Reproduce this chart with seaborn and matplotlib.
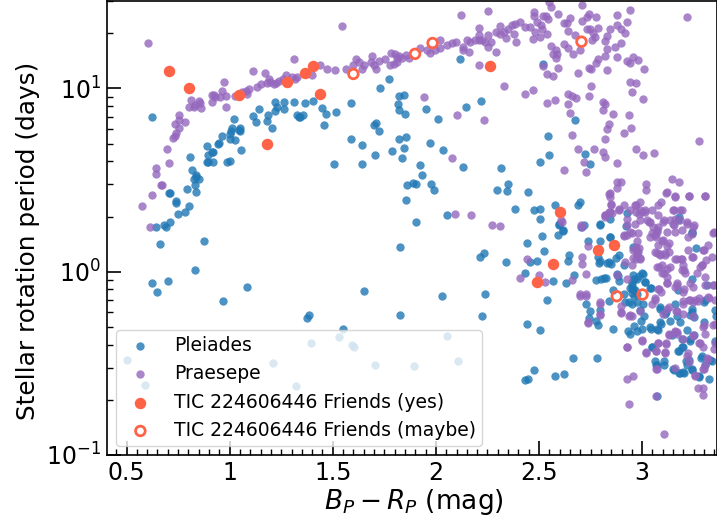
import matplotlib
matplotlib.use("Agg")
import matplotlib.pyplot as plt
from matplotlib.ticker import MultipleLocator, FixedLocator, FixedFormatter
import seaborn as sns

pleiades = [
(.624,6.95),(.645,1.76),(.684,1.79),(.69,1.76),(.71,1.86),(.749,2.07),(.784,2.11),(.805,2.27),(.741,2.44),(.739,2.37),
(.705,2.7),(.713,2.7),(.794,2.83),(.836,2.72),(.833,2.97),(.826,3.2),(.85,3.22),(.839,3.37),(.837,3.3),(.818,3.58),
(.808,4.24),(.891,3.97),(.896,3.97),(.92,3.95),(.896,4.34),(.915,4.48),(.921,4.48),(.891,4.85),(.946,4.95),(.949,5.07),(.965,5.47),
(.986,3.97),(1.002,4.03),(1.055,4.62),(1.028,5.26),(1.0,5.29),(1.004,5.64),(1.012,6.08),(1.007,5.88),(1.052,6.08),(1.052,5.88),(1.044,5.96),
(1.023,6.8),(1.114,7.1),(1.127,6.6),(1.14,7.73),(1.185,7.2),(1.183,6.63),(1.204,6.08),(1.222,7.5),(1.23,7.9),(1.219,8.43),(1.265,7.77),(1.265,8.4),
(1.311,8.43),(1.366,8.3),(1.404,8.53),(1.328,7.2),(1.338,7.0),(1.343,7.0),(1.354,7.2),(1.45,7.84),(1.467,7.23),(1.514,7.4),(1.456,6.35),(1.588,8.35),
(1.587,5.29),(1.642,4.94),(1.508,3.88),(1.643,3.88),(1.698,6.33),(1.708,6.45),(1.724,5.84),(1.706,4.34),(1.727,10.0),(1.773,11.2),
(1.787,4.58),(1.819,5.27),(1.855,5.45),(1.847,4.76),(1.837,4.2),(1.823,9.1),(1.847,9.2),(1.818,8.2),(1.819,7.6),(1.852,7.3),(1.861,2.97),(1.855,2.46),
(2.118,14.5),(2.517,13.6),(2.217,8.5),(2.147,7.9),(1.95,7.7),(2.012,6.85),(2.674,6.75),(2.545,5.47),(1.971,5.05),(2.033,4.6),(2.549,4.34),(2.722,4.4),
(2.504,3.97),(2.748,3.85),(1.921,3.8),(2.131,3.75),(2.314,3.7),(1.933,3.37),(1.89,3.06),(1.905,3.0),(1.976,3.0),(1.992,2.8),(2.349,3.0),(2.296,2.78),(2.346,2.77),
(2.448,2.72),(2.386,2.2),(2.474,2.17),(2.504,2.21),(2.577,2.3),(2.687,2.3),(2.701,2.4),(2.054,2.05),(2.507,1.93),(1.905,1.87),(2.929,2.1),(2.845,1.95),(3.176,1.92),
(2.598,1.8),(2.617,1.7),(2.716,1.8),(2.703,1.76),(2.795,1.8),(2.922,1.78),
(2.03,.74),(2.236,.76),(2.223,.57),(2.44,.52),(2.506,.48),(2.537,.70),(2.667,.34),(2.779,.34),(2.477,.29),(2.433,.258),(2.449,.26),(2.577,.27),(2.622,.277),
(2.44,1.43),(2.516,1.56),(2.59,1.59),(2.617,1.66),(2.598,1.82),(2.522,1.29),(2.212,1.21),(2.233,1.26),(2.338,1.13),(2.457,1.13),(2.488,1.15),(2.432,.98),
(2.646,1.24),(2.64,1.14),(2.669,.96),(2.63,.87),(2.567,.89),(2.774,.90),(2.801,.915),(2.824,.92),(2.737,1.47),(2.797,1.47),(2.844,1.55),(2.785,1.2),(2.798,1.14),(2.79,1.11),
(2.832,1.12),(2.851,1.1),(2.89,1.24),(2.872,1.19),(2.881,.95),(2.89,.89),
(2.958,.96),(3.002,.975),(2.974,.915),(2.95,.88),(2.942,.82),(2.955,.80),(2.966,.79),(2.95,.77),(2.961,.74),(2.974,.76),(3.015,.88),(3.042,.82),(2.861,.79),(2.91,.76),
(2.84,.69),(2.918,.68),(2.934,.68),(2.95,.67),(2.974,.68),(2.99,.615),(3.011,.57),(2.994,.54),(3.006,.67),
(2.727,.67),(2.746,.61),(2.796,.615),(2.742,.56),(2.785,.515),(2.776,.54),(2.859,.49),(2.931,.475),(2.94,.455),(2.961,.505),(2.977,.475),(2.998,.49),(3.042,.49),(3.079,.48),(3.092,.52),
(3.087,.63),(3.116,.605),(3.136,.54),(3.168,.57),(3.217,.48),(3.233,.42),(3.192,.43),(3.047,.39),(3.176,.37),(3.2,.39),(3.063,.325),(3.071,.31),(3.108,.325),(3.152,.295),(3.184,.28),(3.2,.285),
(3.213,.325),(3.229,.33),(3.244,.295),(3.278,.265),(3.326,.26),(3.289,.345),(3.305,.31),(3.338,.325),(3.262,1.35),(3.241,.915),(3.244,1.62),(3.313,.85),(3.302,.68),(3.358,.57),(3.37,.41),
(3.071,.21),(3.176,.79),(3.16,.665),(3.241,.63),(3.252,.565),
(.66,1.41),(.875,1.47),(1.827,1.37),(.83,1.02),(.626,.87),(.702,.885),(.649,.78),(.968,.69),(1.083,.83),(1.375,.56),(1.387,.58),(1.55,.485),(1.65,.785),(1.827,.58),
(.503,.33),(.592,.24),(1.212,.316),(1.322,.237),(1.395,.41),(1.532,.44),(1.593,.40),(1.601,.39),(1.705,.31),(1.895,.305),(2.055,.445),(2.107,.325),
(3.178,2.0),(3.242,1.65),(2.795,1.83),(2.842,1.55),(2.956,1.37),(2.838,1.13),(2.914,1.09),(2.879,.97),(2.814,.93),(2.999,.99),(2.96,.91),(2.984,.95),(2.951,.85),(2.951,.8),(3.016,.88),(3.04,.82),
(3.089,.64),(3.113,.59),(3.089,.53),(3.145,.45),(3.073,.49),(3.04,.5),(3.234,.58),(3.242,.6),(3.186,.53),(3.234,.43),(3.25,.45),(3.194,.39),(3.178,.37),(3.048,.39),(3.065,.31),(3.108,.31),
(3.153,.29),(3.178,.28),(3.202,.28),(3.242,.29),(3.218,.31),(3.287,.34),(3.278,.27),(3.328,.33),(3.355,.62),(3.303,.7),(3.299,.53),(3.355,.42),
]

praesepe = [
(.603,17.7),(1.543,21.8),(1.312,14.4),(.574,2.27),(.615,1.75),(.624,2.62),(.665,2.97),(.673,2.96),(.644,3.4),(.644,3.67),(.705,3.9),(.694,4.68),
(.726,5.37),(.737,5.5),(.742,5.75),(.754,6.05),(.737,6.38),(.754,6.75),(.754,7.2),(.784,6.58),(.804,7.9),(.826,7.95),(.813,8.68),(.834,8.1),(.852,8.5),(.863,7.85),(.858,8.3),
(.915,8.4),(.913,9.2),(.923,9.2),(.931,8.95),(.952,8.95),(.984,9.15),(.963,9.7),(.973,10.9),(.983,7.95),(1.028,9.15),(1.06,9.55),(1.085,9.28),(1.093,9.9),(1.077,9.65),
(1.114,12.4),(1.133,10.2),(1.152,10.6),(1.173,12.1),(1.19,11.3),(1.182,10.75),(1.198,10.85),(1.214,10.6),(1.225,10.75),(1.241,11.0),(1.259,11.3),(1.274,11.8),(1.303,11.5),(1.327,11.5),(1.319,11.3),
(1.401,11.8),(1.44,13.5),(1.472,12.7),(1.513,12.55),(1.563,12.7),(1.597,13.4),(1.613,14.4),(1.626,14),(1.65,13.5),(1.642,12.7),(1.685,14),(1.692,15),(1.722,14.2),(1.752,14.4),(1.698,13.4),(1.711,12.7),
(1.782,15.7),(1.779,13.5),(1.795,13.6),(1.803,15.5),(1.811,14.7),(1.819,15),(1.811,14),(1.836,14.6),(1.857,15.2),(1.868,14.6),
(1.921,16.6),(1.957,16.2),(1.973,15.7),(1.997,16.2),(2.021,16.6),(2.021,18.5),(2.054,17.3),(2.078,17.6),(2.099,18),(2.131,16.9),(2.131,16.2),(2.16,15.8),
(2.15,18.4),(2.167,18),(2.191,18.3),(2.207,19.5),(2.207,18.3),(2.223,18.3),(2.239,18),(2.255,19.5),(2.268,18),(2.251,16.8),(2.12,25.3),(2.251,26.5),(2.21,21.5),(2.21,13.5),(2.291,15.8),
(2.291,20.3),(2.309,21.8),(2.312,19.9),(2.341,18.9),(2.328,20.3),(2.352,21.2),(2.369,22.2),(2.385,22.6),(2.38,19.9),(2.39,18),(2.409,23),(2.43,21.6),(2.457,21.6),
(2.478,26.2),(2.478,24.8),(2.49,23),(2.509,22.2),(2.514,21.2),(2.482,20.3),(2.47,18.7),(2.506,19.1),(2.538,19.9),(2.549,29.5),(2.559,27.8),(2.517,24.8),(2.535,25),(2.546,24),(2.59,25.6),
(2.619,22.9),(2.635,22.8),(2.648,24.3),(2.709,28.7),(2.64,20.5),(2.675,19.6),(2.708,23.2),(2.732,24.5),(2.74,25.6),(2.777,24.7),(2.732,21.2),(2.748,21.2),(2.788,21.4),(2.764,20),(2.772,19),
(2.619,17.4),(2.64,16.7),(2.559,17.1),(2.582,16.2),(2.57,15.5),(2.587,15.5),(2.582,14.6),(2.519,13.3),(2.59,13),(2.538,12),(2.57,11.7),(2.667,15.5),(2.7,16.2),(2.756,18.3),
(2.688,12.2),(2.74,13),(2.75,12.7),(2.829,12.6),(2.788,14.4),(2.777,13.7),(2.821,15),(2.829,16.4),(2.869,16.9),(2.877,14.9),(2.818,18.1),(2.829,19.4),(2.845,21.2),(2.877,25.1),(2.877,22.2),
(2.929,23.1),(2.939,26.7),(2.898,21),(2.918,20),(2.898,17.6),(2.929,14.2),(2.939,13.7),(2.958,14.8),(2.979,14.3),(3.008,12.8),(3.216,24.6),(2.939,10.8),(2.969,10.7),(2.95,9.6),(3.006,8.8),(2.75,10.3),(2.74,9.1),
(2.33,10.3),(2.43,9.3),(2.469,9.85),(2.538,8.3),(2.578,8.6),(2.64,8.2),(2.64,9.3),(2.659,9.1),(2.679,8.9),(2.65,7.35),(1.941,9),(2.1,7.2),(2.231,6.7),(2.079,4.15),(2.62,3.6),(2.659,5.6),
(2.688,4.65),(2.769,4.7),(2.719,3.95),(2.73,3.5),(2.808,4.5),(2.821,4.25),(2.877,3.9),(2.809,8.4),(2.821,8.2),(2.808,7.6),(2.858,7.3),(2.937,7.2),(2.84,6.4),(2.829,6),(2.821,5.3),(2.91,5.75),(2.948,6.1),
(2.969,4.65),(3.006,4.35),(3.058,4.45),(3.278,5.2),(2.877,3.1),(2.897,3.1),(2.877,2.85),(2.84,2.65),(2.845,2.55),(2.848,2.3),(3.019,3),(3.019,2.8),(3.147,3.2),(3.178,3.1),(3.118,2.7),(3.158,2.55),(3.228,2.6),(3.305,2.58),
(2.091,2.06),(2.17,2.05),(2.27,1.8),(2.309,1.78),(2.611,1.87),(2.708,1.76),
(2.848,2.35),(2.821,2.04),(2.837,2.12),(2.853,2.08),(2.89,2.16),(2.91,2.3),(2.942,2.16),(2.966,2.3),(2.99,2.4),(2.971,2.12),(2.998,2.12),(3.015,2.16),(2.99,1.91),(2.966,1.83),(3.023,1.91),(3.036,1.87),
(3.047,2.16),(3.079,2.3),(3.09,2.4),(3.079,2.04),(3.055,1.76),(3.071,1.65),(3.039,1.55),(3.063,1.59),(3.079,1.76),(3.103,1.87),(3.136,1.91),(3.152,2.16),(3.184,2.16),(3.152,1.83),(3.16,1.65),(3.216,1.83),
(3.249,1.76),(3.224,1.55),(3.192,1.69),(3.12,1.65),(3.103,1.49),(3.128,1.43),(3.079,1.4),(3.063,1.28),(3.087,1.25),(3.111,1.24),(3.071,1.06),(3.095,1.09),(3.12,1.04),(3.095,.98),(3.12,.94),(3.16,1.18),(3.187,1.18),
(3.2,1.09),(3.224,1.31),(3.249,1.21),(3.297,1.31),(3.318,1.4),(3.346,1.63),(3.308,1.16),(3.289,1.09),(3.265,.98),(3.305,.94),(3.346,.85),(3.192,1.02),(3.208,.98),(3.168,.87),(3.2,.78),(3.16,.83),(3.12,.87),
(3.079,.81),(3.09,.78),(3.063,.7),(3.047,.67),(3.132,.645),(3.168,.61),(3.103,.59),(3.197,.67),(3.245,.68),(3.27,.69),(3.354,.7),(3.249,.57),(3.16,.47),(3.132,.45),(3.168,.46),(3.249,.444),(3.278,.41),(3.305,.46),
(3.297,.5),(3.346,.51),(2.998,.42),(3.079,.41),(3.118,.405),(3.068,.37),(3.018,.36),(3.111,.36),(2.929,.39),(3.216,.347),(3.318,.333),(3.297,.293),(3.305,.31),(3.257,.272),(3.071,.293),(3.16,.30),(2.929,.26),(2.958,.27),
(3.27,.233),(3.297,.233),(3.297,.212),(3.068,.21),(2.937,.19),(3.108,.13),(2.738,.525),(2.798,.58),(2.798,.67),(2.7,.74),(2.729,.74),(2.898,.594),(2.937,.57),(2.95,.57),(2.918,1.13),(2.877,.96),(2.926,.91),(2.95,1.09),
(2.708,1.21),(2.708,1.1),(2.73,.97),(2.659,.905),(2.528,.88),(2.409,.92),(2.44,1.17),(2.5,.96),(2.738,1.39),(2.91,1.57),(2.926,1.59),(2.95,1.63),(2.979,1.63),(2.974,1.47),(2.971,1.33),(2.958,1.31),(2.982,1.28),(2.958,1.19),
(2.99,1.19),(2.974,1.24),(2.926,1.93),(2.926,1.8),(2.818,2.0),(2.703,1.8),(2.608,1.91),(3.281,1.06),(3.338,1.21),(3.249,.83),(3.321,.73),(3.229,.7),(3.297,.39),(3.354,.41),
(2.968,2.32),(2.992,2.17),(3.016,2.12),(2.984,2.06),(3.032,1.87),(3.048,1.63),(3.073,1.68),(3.065,1.55),(3.108,1.91),(3.153,1.79),(3.161,1.94),(3.186,1.91),(3.218,1.87),(3.25,1.79),(3.242,1.61),(3.097,1.48),
(3.121,1.39),(3.073,1.26),(3.113,1.26),(3.089,1.23),(3.129,1.28),(3.081,1.06),(3.105,.99),(3.137,1.06),(3.17,1.18),(3.194,1.18),(3.202,1.02),(3.242,1.21),(2.968,1.37),(2.984,1.34),(2.968,1.18),(2.992,1.18),(2.976,1.26),
(2.911,1.58),(2.943,1.65),(2.822,2.04),(2.846,2.12),(2.887,2.2),(3.153,2.17),(3.194,2.17),(3.226,2.6),(3.307,2.6),(3.157,2.6),(3.121,2.72),(2.843,2.68),(3.347,1.64),(3.299,1.31),(3.291,1.09),(3.234,.87),(3.205,.8),
(3.121,.87),(3.081,.81),(3.17,.85),(3.307,.85),(3.347,.85),
(3.161,.475),(3.129,.46),(3.169,.47),(3.199,.43),(3.247,.45),(3.279,.41),(3.347,.38),(3.077,.41),(3.118,.41),(3.113,.365),(3.069,.37),(3.019,.365),(2.998,.425),(2.927,.39),(3.226,.32),(3.222,.36),(3.315,.34),(3.299,.295),
(3.258,.27),(3.069,.295),(3.355,.52),(3.299,.51),(3.258,.7),(3.234,.7),(3.275,.72),(3.323,.72),(3.199,.69),(3.166,.61),(3.199,.59),(3.121,.63),(3.061,.72),(2.992,.61),(2.943,.58),(2.899,.6),(2.898,.65),(2.798,.68),
(2.798,.59),(2.738,.53),(2.729,.76),(2.698,.76),
]

friends_yes_color = [.705,.802,1.046,1.18,1.28,1.364,1.406,1.44,2.264,2.604,2.49,2.566,2.788,2.864]
friends_yes_period = [12.4,10.0,9.2,5.0,10.9,12.1,13.3,9.3,13.2,2.11,.884,1.10,1.32,1.40]
friends_maybe_color = [1.60,1.899,1.984,2.706,2.877,3.002]
friends_maybe_period = [12.0,15.45,17.7,18.0,.735,.751]

pleiades_color, pleiades_period = zip(*pleiades)
praesepe_color, praesepe_period = zip(*praesepe)
xtick_values = [0.5, 1, 1.5, 2, 2.5, 3]
xtick_labels = ["0.5", "1", "1.5", "2", "2.5", "3"]

sns.set_style("ticks")
plt.rcParams["font.family"] = ["DejaVu Sans"]
plt.rcParams["text.color"] = "black"
plt.rcParams["axes.labelcolor"] = "black"
plt.rcParams["xtick.labelcolor"] = "black"
plt.rcParams["ytick.labelcolor"] = "black"
plt.rcParams["mathtext.fontset"] = "dejavusans"
W, H = 717, 520
fig = plt.figure(figsize=(W/100, H/100), dpi=100)
ax = fig.add_axes([106.5/W, (H-455)/H, (W-106.5)/W, 454.5/H])

sns.scatterplot(x=pleiades_color, y=pleiades_period, ax=ax, color="tab:blue", alpha=0.8, s=36,
                linewidth=0, label="Pleiades", zorder=2)
sns.scatterplot(x=praesepe_color, y=praesepe_period, ax=ax, color="tab:purple", alpha=0.8, s=36,
                linewidth=0, label="Praesepe", zorder=2)
sns.scatterplot(x=friends_yes_color, y=friends_yes_period, ax=ax, color="#ff6347", s=68,
                linewidth=0, label="TIC 224606446 Friends (yes)", zorder=3)
ax.scatter(friends_maybe_color, friends_maybe_period, facecolors="none", edgecolors="#ff6347", s=48,
           linewidths=2, label="TIC 224606446 Friends (maybe)", zorder=3)

ax.set_yscale("log")
ax.set_xlim(0.403, 3.363)
ax.set_ylim(0.1, 30.2)
ax.xaxis.set_major_locator(FixedLocator(xtick_values))
ax.xaxis.set_major_formatter(FixedFormatter(xtick_labels))
ax.xaxis.set_minor_locator(MultipleLocator(0.05))
for spine in ax.spines.values():
    spine.set_linewidth(1.2)
    spine.set_color("black")
ax.tick_params(axis="both", which="major", direction="in", length=10, width=1.2, labelsize=17, pad=4, color="black")
ax.tick_params(axis="both", which="minor", direction="in", length=4.5, width=1.0, color="black")
ax.set_xlabel(r"$B_P - R_P$ (mag)", fontsize=19, labelpad=2, x=0.503)
ax.set_ylabel("Stellar rotation period (days)", fontsize=17.8, labelpad=4, y=0.471)
ax.legend(loc="lower left", bbox_to_anchor=(9.5/610.5, 9.5/454.5), borderaxespad=0, fontsize=13.5, borderpad=0.3,
          frameon=True, framealpha=0.8, edgecolor="0.8", fancybox=True, labelspacing=0.5)
fig.savefig("out.png", dpi=100)
